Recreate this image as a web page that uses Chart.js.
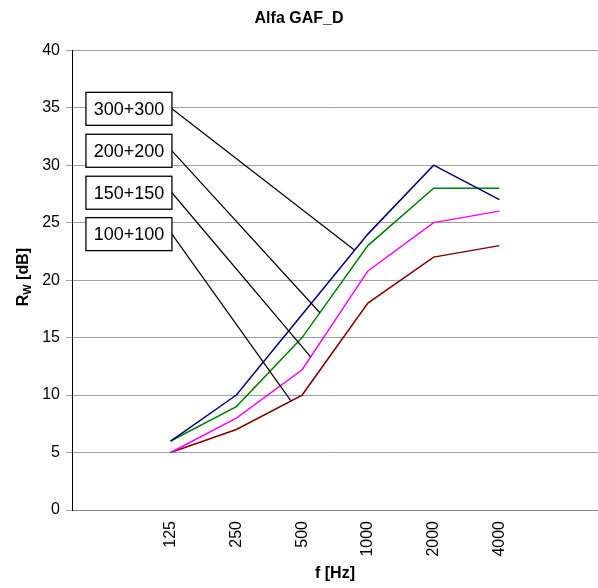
<!DOCTYPE html>
<html><head><meta charset="utf-8">
<script src="https://cdn.jsdelivr.net/npm/chart.js@4/dist/chart.umd.min.js"></script>
<style>html,body{margin:0;padding:0;background:#fff}</style>
</head><body>
<canvas id="c" width="598" height="588" style="width:598px;height:588px;display:block"></canvas>
<script>
// ---- data ----
const categories = ['', '125', '250', '500', '1000', '2000', '4000', ''];
const seriesNames = ['300+300', '200+200', '150+150', '100+100'];
const s300 = [null, 6, 10, 17, 24, 30, 27, null];
const s200 = [null, 6, 9, 15, 23, 28, 28, null];
const s150 = [null, 5, 8, 12.2, 20.8, 25, 26, null];
const s100 = [null, 5, 7, 10, 18, 22, 23, null];
const yMin = 0, yMax = 40, yStep = 5;
// category position where each series' label leader line ends on its curve
const leaderAt = [3.8, 3.27, 3.13, 2.83];
// value level of each label box centre
const labelBoxY = [34.9, 31.25, 27.6, 24.0];

const FONT = '"Liberation Sans", Arial, Helvetica, sans-serif';
const colors = ['#000080', '#008000', '#FF00FF', '#800000'];
const seriesData = [s300, s200, s150, s100];

const labelPlugin = {
  id: 'labelBoxes',
  afterDatasetsDraw(chart) {
    const {ctx, scales: {x, y}} = chart;
    ctx.save();
    seriesData.forEach((d, i) => {
      const p = leaderAt[i];
      const i0 = Math.floor(p), i1 = Math.ceil(p);
      const v = d[i0] + (p - i0) * (d[i1] - d[i0]);
      const ex = x.getPixelForValue(p), ey = y.getPixelForValue(v);
      const right = x.getPixelForValue(1.02);
      const cy = y.getPixelForValue(labelBoxY[i]);
      const w = 86, h = 33;
      ctx.strokeStyle = '#000';
      ctx.lineWidth = 1.2;
      ctx.beginPath();
      ctx.moveTo(right, cy);
      ctx.lineTo(ex, ey);
      ctx.stroke();
      ctx.fillStyle = '#fff';
      ctx.fillRect(right - w, cy - h / 2, w, h);
      ctx.lineWidth = 1.3;
      ctx.strokeRect(right - w, cy - h / 2, w, h);
      ctx.fillStyle = '#000';
      ctx.font = '18px ' + FONT;
      ctx.textAlign = 'center';
      ctx.textBaseline = 'middle';
      ctx.fillText(seriesNames[i], right - w / 2, cy + 1);
    });
    ctx.restore();
  },
  afterDraw(chart) {
    const {ctx, chartArea} = chart;
    ctx.save();
    const cy = (chartArea.top + chartArea.bottom) / 2 - 3;
    ctx.translate(22, cy);
    ctx.rotate(-Math.PI / 2);
    ctx.fillStyle = '#000';
    ctx.textBaseline = 'alphabetic';
    ctx.textAlign = 'left';
    const big = 'bold 16px ' + FONT, small = 'bold 11px ' + FONT;
    ctx.font = big; const wR = ctx.measureText('R').width; const wRest = ctx.measureText(' [dB]').width;
    ctx.font = small; const wW = ctx.measureText('W').width;
    let sx = -(wR + wW + wRest) / 2;
    ctx.font = big; ctx.fillText('R', sx, 6); sx += wR;
    ctx.font = small; ctx.fillText('W', sx, 9); sx += wW;
    ctx.font = big; ctx.fillText(' [dB]', sx, 6);
    ctx.restore();
  }
};

new Chart(document.getElementById('c'), {
  type: 'line',
  data: {
    labels: categories,
    datasets: seriesData.map((d, i) => ({
      label: seriesNames[i], data: d, borderColor: colors[i], backgroundColor: colors[i],
      borderWidth: 1.5, pointRadius: 0, tension: 0, fill: false
    }))
  },
  options: {
    responsive: false, animation: false, devicePixelRatio: 1,
    layout: {padding: 0},
    plugins: {
      legend: {display: false}, tooltip: {enabled: false},
      title: {display: true, text: 'Alfa GAF_D', color: '#000',
        font: {family: FONT, size: 16, weight: 'bold'}, padding: {top: 9, bottom: 22}}
    },
    scales: {
      x: {
        type: 'category', offset: true,
        grid: {display: false, drawTicks: false},
        border: {display: true, color: '#888', width: 1},
        ticks: {autoSkip: false, minRotation: 90, maxRotation: 90, padding: 11, color: '#000',
          font: {family: FONT, size: 16}},
        title: {display: true, text: 'f [Hz]', color: '#000', font: {family: FONT, size: 16, weight: 'bold'},
          padding: {top: 0, bottom: 5}},
        afterFit(s) { s.height = 78; }
      },
      y: {
        min: yMin, max: yMax,
        grid: {color: '#a0a0a0', lineWidth: 1, tickLength: 6, tickColor: '#a0a0a0'},
        border: {display: true, color: '#000', width: 1},
        ticks: {stepSize: yStep, padding: 6, color: '#000', font: {family: FONT, size: 16}},
        afterFit(s) { s.width = 72; }
      }
    }
  },
  plugins: [labelPlugin]
});
</script>
</body></html>
